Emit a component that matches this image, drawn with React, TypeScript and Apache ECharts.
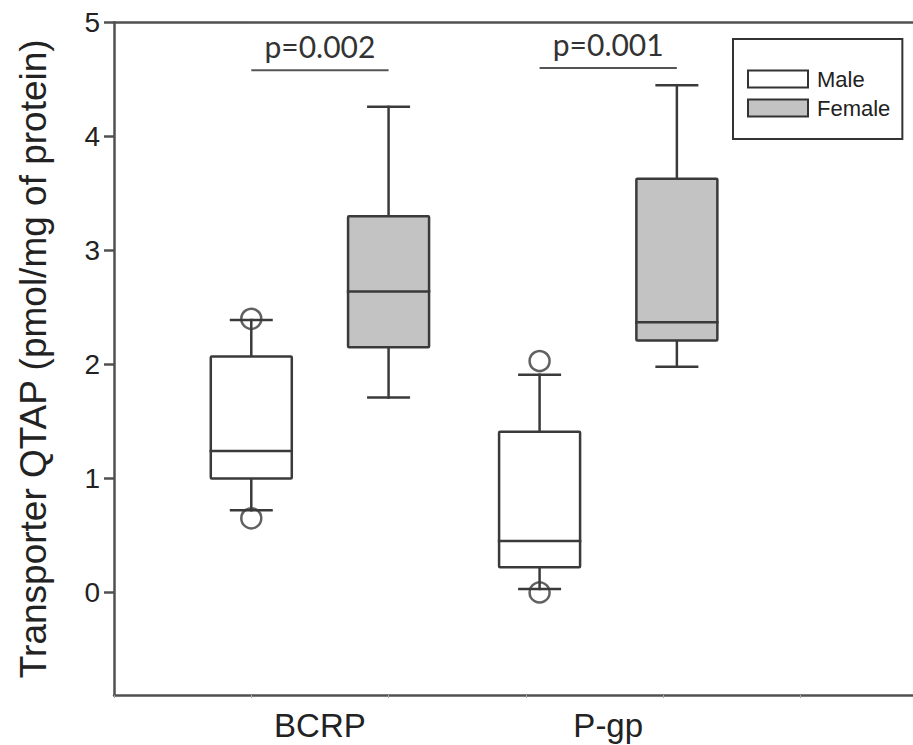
import React, { useEffect, useRef } from "react";
import * as echarts from "echarts";

// ---- data ----
const groups = ["BCRP", "P-gp"];
const groupCenters = [1.5, 3.6];
const sexes = ["Male", "Female"];
const sexOffsets = [-0.5, 0.5];
// [lower whisker, Q1, median, Q3, upper whisker]
const maleStats = [
  [0.72, 1.0, 1.24, 2.07, 2.39],
  [0.03, 0.22, 0.45, 1.41, 1.91],
];
const femaleStats = [
  [1.71, 2.15, 2.64, 3.3, 4.26],
  [1.98, 2.21, 2.37, 3.63, 4.45],
];
const maleOutliers = [
  [0.65, 2.4],
  [0.0, 2.03],
];
const pLabels = ["p=0.002", "p=0.001"];
const pBarLevels = [4.58, 4.6];
const yTicks = [0, 1, 2, 3, 4, 5];
const yTitle = "Transporter QTAP (pmol/mg of protein)";

// ---- style constants ----
const BOX_W = 0.59;
const STROKE = "#3a3a3a";
const AXIS = "#505050";
const SANS = "'Liberation Sans', Arial, sans-serif";

const boxData = (stats: number[][], sexIdx: number) =>
  stats.map((s, gi) => [groupCenters[gi] + sexOffsets[sexIdx], ...s]);

const outlierData: number[][] = [];
maleOutliers.forEach((list, gi) =>
  list.forEach((v) => outlierData.push([groupCenters[gi] + sexOffsets[0], v]))
);

const sigData = groups.map((_, gi) => [
  groupCenters[gi] + sexOffsets[0],
  groupCenters[gi] + sexOffsets[1],
  pBarLevels[gi],
  gi,
]);

const boxRender = (fill: string) => (params: any, api: any) => {
  const x = api.value(0);
  const lo = api.coord([x, api.value(1)]);
  const q1 = api.coord([x, api.value(2)]);
  const med = api.coord([x, api.value(3)]);
  const q3 = api.coord([x, api.value(4)]);
  const hi = api.coord([x, api.value(5)]);
  const half = api.size([BOX_W, 0])[0] / 2;
  const cap = half / 2;
  const cx = lo[0];
  const ls = { stroke: STROKE, lineWidth: 2.5, lineCap: "square" };
  return {
    type: "group",
    children: [
      { type: "line", shape: { x1: cx, y1: hi[1], x2: cx, y2: q3[1] }, style: ls },
      { type: "line", shape: { x1: cx, y1: q1[1], x2: cx, y2: lo[1] }, style: ls },
      { type: "line", shape: { x1: cx - cap, y1: hi[1], x2: cx + cap, y2: hi[1] }, style: ls },
      { type: "line", shape: { x1: cx - cap, y1: lo[1], x2: cx + cap, y2: lo[1] }, style: ls },
      {
        type: "rect",
        shape: { x: cx - half, y: q3[1], width: 2 * half, height: q1[1] - q3[1], r: 1 },
        style: { fill, stroke: STROKE, lineWidth: 2.5 },
      },
      { type: "line", shape: { x1: cx - half, y1: med[1], x2: cx + half, y2: med[1] }, style: ls },
    ],
  };
};

const sigRender = (params: any, api: any) => {
  const a = api.coord([api.value(0), api.value(2)]);
  const b = api.coord([api.value(1), api.value(2)]);
  const label = pLabels[api.value(3)];
  return {
    type: "group",
    children: [
      {
        type: "line",
        shape: { x1: a[0], y1: a[1], x2: b[0], y2: b[1] },
        style: { stroke: "#555", lineWidth: 2 },
      },
      {
        type: "text",
        style: {
          text: label,
          x: (a[0] + b[0]) / 2,
          y: a[1] - 9,
          align: "center",
          verticalAlign: "bottom",
          fontFamily: "Lato, 'Noto Sans', sans-serif",
          fontSize: 30,
          fill: "#333",
        },
      },
    ],
  };
};

export default function App() {
  const ref = useRef<HTMLDivElement>(null);
  useEffect(() => {
    if (!ref.current) return;
    const chart = echarts.init(ref.current, undefined, { renderer: "svg" });
    const fills = ["#ffffff", "#c3c3c3"];
    chart.setOption({
      animation: false,
      backgroundColor: "#ffffff",
      grid: { left: 114, right: 0, top: 22.5, bottom: 50 },
      legend: {
        orient: "vertical",
        left: 733,
        top: 39,
        padding: [29, 12, 20, 14],
        itemGap: 7,
        itemWidth: 60,
        itemHeight: 17,
        icon: "rect",
        borderColor: "#333",
        borderWidth: 2,
        textStyle: { fontFamily: SANS, fontSize: 22, color: "#222", padding: [0, 0, 0, 4] },
        data: sexes.map((s, i) => ({
          name: s,
          itemStyle: { color: fills[i], borderColor: "#333", borderWidth: 2 },
        })),
      },
      xAxis: [
        {
          type: "value",
          min: 0,
          max: 5.82,
          interval: 1,
          splitLine: { show: false },
          axisLine: { show: true, onZero: false, lineStyle: { color: AXIS, width: 2.5 } },
          axisTick: { show: true, length: 3, lineStyle: { color: "#aaa" } },
          axisLabel: {
            customValues: groupCenters,
            margin: 14,
            fontFamily: SANS,
            fontSize: 33,
            color: "#222",
            formatter: (v: number) => {
              const i = groupCenters.findIndex((c) => Math.abs(c - v) < 1e-6);
              return i >= 0 ? groups[i] : "";
            },
          },
        },
        {
          type: "value",
          position: "top",
          min: 0,
          max: 5.82,
          splitLine: { show: false },
          axisLine: { show: true, onZero: false, lineStyle: { color: AXIS, width: 2.5 } },
          axisTick: { show: false },
          axisLabel: { show: false },
        },
      ],
      yAxis: {
        type: "value",
        min: -0.9,
        max: 5,
        splitLine: { show: false },
        axisLine: { show: true, onZero: false, lineStyle: { color: AXIS, width: 2.5 } },
        axisTick: { show: true, customValues: yTicks, length: 10, lineStyle: { color: AXIS, width: 2.5 } },
        axisLabel: { customValues: yTicks, margin: 14, fontFamily: SANS, fontSize: 28, color: "#222" },
        name: yTitle,
        nameLocation: "middle",
        nameGap: 62,
        nameTextStyle: { fontFamily: SANS, fontSize: 37, color: "#222" },
      },
      series: [
        {
          name: sexes[0],
          type: "custom",
          renderItem: boxRender(fills[0]),
          itemStyle: { color: fills[0] },
          encode: { x: 0, y: [1, 2, 3, 4, 5] },
          data: boxData(maleStats, 0),
        },
        {
          name: sexes[1],
          type: "custom",
          renderItem: boxRender(fills[1]),
          itemStyle: { color: fills[1] },
          encode: { x: 0, y: [1, 2, 3, 4, 5] },
          data: boxData(femaleStats, 1),
        },
        {
          type: "scatter",
          symbol: "circle",
          symbolSize: 20,
          itemStyle: { color: "rgba(0,0,0,0)", borderColor: STROKE, borderWidth: 2.5 },
          data: outlierData,
          z: 5,
        },
        {
          type: "custom",
          renderItem: sigRender,
          encode: { x: [0, 1], y: 2 },
          data: sigData,
        },
      ],
    });
    return () => chart.dispose();
  }, []);
  return (
    <div
      ref={ref}
      style={{ position: "absolute", left: 0, top: 0, width: 913, height: 745 }}
    />
  );
}
